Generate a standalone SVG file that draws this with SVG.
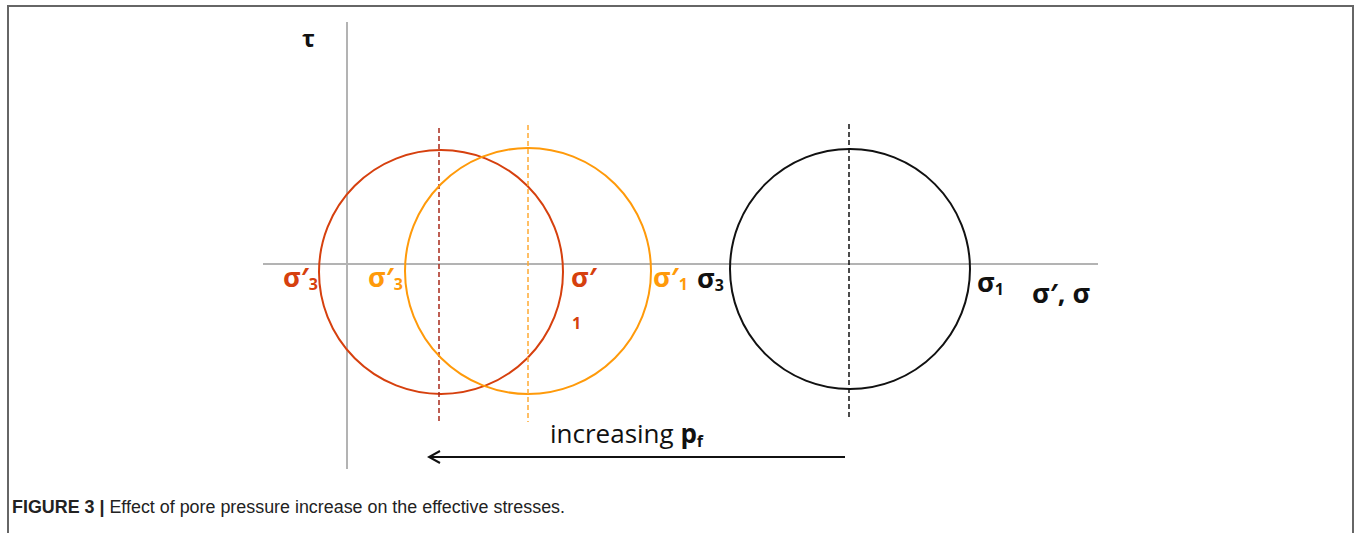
<svg xmlns="http://www.w3.org/2000/svg" width="1356" height="533" viewBox="0 0 1356 533">
<style>
.ax{stroke:#b3b3b3;stroke-width:2;fill:none}
.circ{fill:none;stroke-width:2}
.dash{stroke-width:1.5;stroke-dasharray:5,3;fill:none}
.lbl{font-family:"Open Sans","DejaVu Sans",sans-serif;font-weight:bold}
.sig{font-size:27px}
.sub{font-size:16px}
.red{fill:#d6400e}
.org{fill:#ff9a0a}
.blk{fill:#111}
</style>
<defs>
<marker id="ah" markerWidth="14" markerHeight="14" refX="12" refY="7" orient="auto" markerUnits="userSpaceOnUse">
<path d="M1,1 L12,7 L1,13" fill="none" stroke="#111" stroke-width="2"/>
</marker>
</defs>
<rect width="1356" height="533" fill="#fff"/>
<g id="frame">
<path d="M8,533 V6 H1353 V533" fill="none" stroke="#666" stroke-width="2"/>
</g>
<g id="axes">
<line class="ax" x1="347" y1="22" x2="347" y2="469"/>
<line class="ax" x1="263" y1="264" x2="1098" y2="264"/>
</g>
<g id="circle-red">
<circle class="circ" cx="441" cy="272" r="122" stroke="#d6400e"/>
<line class="dash" x1="439" y1="128" x2="439" y2="422" stroke="#a8281a"/>
</g>
<g id="circle-orange">
<circle class="circ" cx="528" cy="271" r="123" stroke="#ff9a0a"/>
<line class="dash" x1="528" y1="125" x2="528" y2="422" stroke="#ffaa33"/>
</g>
<g id="circle-black">
<circle class="circ" cx="850" cy="269" r="120" stroke="#111"/>
<line class="dash" x1="849" y1="124" x2="849" y2="418" stroke="#111"/>
</g>
<g id="labels">
<text class="lbl" x="302" y="47" font-size="24" fill="#111">τ</text>
<text class="lbl red" x="283" y="287"><tspan class="sig">σ′</tspan><tspan class="sub" dy="3">3</tspan></text>
<text class="lbl org" x="368" y="287"><tspan class="sig">σ′</tspan><tspan class="sub" dy="3">3</tspan></text>
<text class="lbl red sig" x="571" y="287">σ′</text>
<text class="lbl red sub" x="572" y="329">1</text>
<text class="lbl org" x="653" y="287"><tspan class="sig">σ′</tspan><tspan class="sub" dy="3">1</tspan></text>
<text class="lbl blk" x="697" y="288"><tspan class="sig">σ</tspan><tspan class="sub" dy="3">3</tspan></text>
<text class="lbl blk" x="977" y="292"><tspan class="sig">σ</tspan><tspan class="sub" dy="3">1</tspan></text>
<text class="lbl blk sig" x="1032" y="303">σ′, σ</text>
</g>
<g id="connectors">
<line x1="845" y1="457" x2="429" y2="457" stroke="#111" stroke-width="2" marker-end="url(#ah)"/>
</g>
<g id="arrow-label">
<text x="550" y="443" font-family="Open Sans, DejaVu Sans, sans-serif" font-size="26" fill="#111">increasing <tspan font-weight="bold">p</tspan><tspan font-weight="bold" font-size="16" dy="4">f</tspan></text>
</g>
<g id="caption">
<text x="12" y="513" font-family="Liberation Sans, Arial, sans-serif" font-size="17.5" fill="#222" textLength="553" lengthAdjust="spacingAndGlyphs"><tspan font-weight="bold">FIGURE 3 |</tspan> Effect of pore pressure increase on the effective stresses.</text>
</g>
</svg>
